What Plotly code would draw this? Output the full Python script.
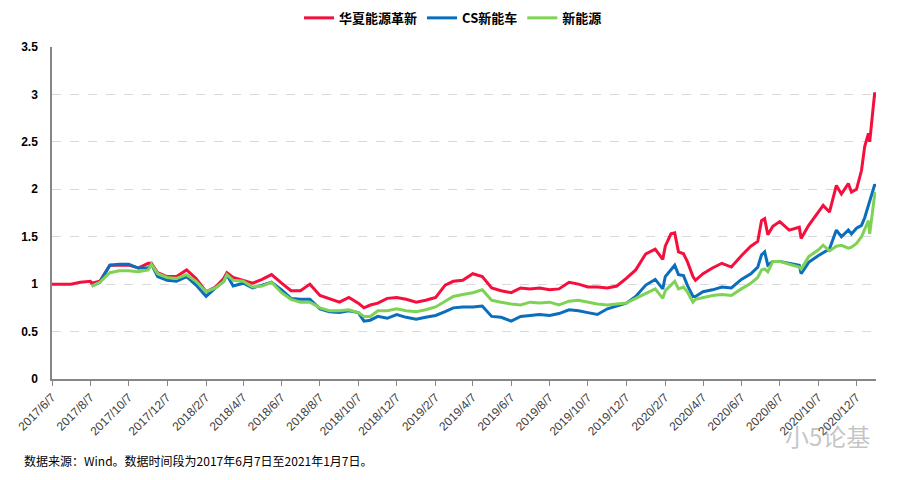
import plotly.graph_objects as go

dates = [
    "2017-06-07", "2017-06-22", "2017-07-07", "2017-07-22", "2017-08-07", "2017-08-09", "2017-08-22",
    "2017-09-07", "2017-09-22", "2017-10-07", "2017-10-22", "2017-11-07", "2017-11-12", "2017-11-22",
    "2017-12-07", "2017-12-22", "2018-01-07", "2018-01-22", "2018-02-07", "2018-02-22", "2018-03-07",
    "2018-03-12", "2018-03-22", "2018-04-07", "2018-04-22", "2018-05-07", "2018-05-22", "2018-06-07",
    "2018-06-22", "2018-07-07", "2018-07-22", "2018-08-07", "2018-08-22", "2018-09-07", "2018-09-22",
    "2018-10-07", "2018-10-16", "2018-10-26", "2018-11-07", "2018-11-22", "2018-12-07", "2018-12-22",
    "2019-01-07", "2019-01-22", "2019-02-07", "2019-02-22", "2019-03-07", "2019-03-22", "2019-04-07",
    "2019-04-22", "2019-05-07", "2019-05-22", "2019-06-07", "2019-06-22", "2019-07-07", "2019-07-22",
    "2019-08-07", "2019-08-22", "2019-09-07", "2019-09-22", "2019-10-07", "2019-10-22", "2019-11-07",
    "2019-11-22", "2019-12-07", "2019-12-22", "2020-01-07", "2020-01-22", "2020-02-03", "2020-02-07",
    "2020-02-16", "2020-02-22", "2020-02-28", "2020-03-07", "2020-03-13", "2020-03-22", "2020-03-26",
    "2020-04-07", "2020-04-22", "2020-05-07", "2020-05-22", "2020-06-07", "2020-06-22", "2020-07-03",
    "2020-07-09", "2020-07-14", "2020-07-19", "2020-07-27", "2020-08-07", "2020-08-22", "2020-09-07",
    "2020-09-10", "2020-09-22", "2020-10-07", "2020-10-15", "2020-10-25", "2020-11-05", "2020-11-13",
    "2020-11-24", "2020-11-29", "2020-12-07", "2020-12-15", "2020-12-20", "2020-12-26", "2020-12-28",
    "2021-01-02", "2021-01-05", "2021-01-07",
]

huaxia = [
    1.00, 1.00, 1.00, 1.02, 1.03, 1.01, 1.03,
    1.20, 1.20, 1.20, 1.17, 1.22, 1.22, 1.12,
    1.08, 1.08, 1.15, 1.06, 0.92, 0.97, 1.06,
    1.12, 1.07, 1.04, 1.01, 1.05, 1.10, 1.01,
    0.93, 0.93, 1.00, 0.88, 0.85, 0.81, 0.86,
    0.80, 0.75, 0.78, 0.80, 0.85, 0.86, 0.84,
    0.81, 0.83, 0.86, 0.99, 1.03, 1.04, 1.11,
    1.08, 0.96, 0.93, 0.91, 0.96, 0.95, 0.96,
    0.94, 0.95, 1.02, 1.00, 0.97, 0.97, 0.96,
    0.98, 1.06, 1.15, 1.32, 1.37, 1.26, 1.40,
    1.53, 1.54, 1.34, 1.32, 1.24, 1.08, 1.04,
    1.11, 1.17, 1.22, 1.18, 1.30, 1.40, 1.45,
    1.67, 1.69, 1.52, 1.61, 1.66, 1.57, 1.60,
    1.48, 1.62, 1.75, 1.83, 1.76, 2.04, 1.95,
    2.06, 1.97, 2.00, 2.20, 2.45, 2.59, 2.50,
    2.83, 3.02, 2.97,
]

cs_nev = [
    None, None, None, None, None, 0.98, 1.02,
    1.20, 1.21, 1.21, 1.17, 1.17, 1.21, 1.08,
    1.04, 1.03, 1.08, 0.99, 0.87, 0.96, 1.03,
    1.10, 0.98, 1.01, 0.96, 0.99, 1.02, 0.94,
    0.85, 0.84, 0.84, 0.74, 0.71, 0.70, 0.72,
    0.70, 0.61, 0.62, 0.66, 0.64, 0.68, 0.65,
    0.63, 0.65, 0.67, 0.71, 0.75, 0.76, 0.76,
    0.77, 0.66, 0.65, 0.61, 0.66, 0.67, 0.68,
    0.67, 0.69, 0.73, 0.72, 0.70, 0.68, 0.74,
    0.77, 0.80, 0.87, 0.99, 1.05, 0.95, 1.08,
    1.15, 1.20, 1.10, 1.09, 0.99, 0.87, 0.87,
    0.92, 0.94, 0.97, 0.96, 1.05, 1.11, 1.18,
    1.31, 1.34, 1.20, 1.24, 1.24, 1.22, 1.20,
    1.11, 1.23, 1.30, 1.33, 1.37, 1.57, 1.50,
    1.57, 1.53, 1.59, 1.62, 1.70, 1.83, 1.86,
    1.99, 2.05, 2.03,
]

new_energy = [
    None, None, None, None, None, 0.98, 1.02,
    1.12, 1.14, 1.14, 1.13, 1.15, 1.21, 1.11,
    1.07, 1.06, 1.10, 1.03, 0.92, 0.96, 1.03,
    1.10, 1.04, 1.03, 0.97, 0.98, 1.02, 0.91,
    0.84, 0.81, 0.81, 0.75, 0.72, 0.72, 0.73,
    0.70, 0.66, 0.66, 0.72, 0.72, 0.74, 0.72,
    0.71, 0.73, 0.76, 0.82, 0.87, 0.89, 0.91,
    0.94, 0.83, 0.81, 0.79, 0.78, 0.81, 0.80,
    0.81, 0.78, 0.82, 0.83, 0.81, 0.79, 0.78,
    0.79, 0.80, 0.85, 0.90, 0.95, 0.85, 0.93,
    0.99, 1.03, 0.95, 0.97, 0.92, 0.81, 0.84,
    0.86, 0.88, 0.89, 0.88, 0.95, 1.01, 1.07,
    1.15, 1.16, 1.13, 1.24, 1.24, 1.21, 1.18,
    1.16, 1.29, 1.36, 1.41, 1.35, 1.40, 1.41,
    1.38, 1.39, 1.43, 1.50, 1.58, 1.67, 1.53,
    1.82, 1.95, 1.97,
]

series_names = ["华夏能源革新", "CS新能车", "新能源"]
series_values = [huaxia, cs_nev, new_energy]
series_colors = ["#F50F3D", "#0A6EBD", "#7ED356"]

tick_dates = ["2017-06-07", "2017-08-07", "2017-10-07", "2017-12-07", "2018-02-07", "2018-04-07",
              "2018-06-07", "2018-08-07", "2018-10-07", "2018-12-07", "2019-02-07", "2019-04-07",
              "2019-06-07", "2019-08-07", "2019-10-07", "2019-12-07", "2020-02-07", "2020-04-07",
              "2020-06-07", "2020-08-07", "2020-10-07", "2020-12-07"]
tick_labels = ["2017/6/7", "2017/8/7", "2017/10/7", "2017/12/7", "2018/2/7", "2018/4/7",
               "2018/6/7", "2018/8/7", "2018/10/7", "2018/12/7", "2019/2/7", "2019/4/7",
               "2019/6/7", "2019/8/7", "2019/10/7", "2019/12/7", "2020/2/7", "2020/4/7",
               "2020/6/7", "2020/8/7", "2020/10/7", "2020/12/7"]
y_ticks = [0, 0.5, 1, 1.5, 2, 2.5, 3, 3.5]
y_labels = ["0", "0.5", "1", "1.5", "2", "2.5", "3", "3.5"]

FONT = "Noto Sans CJK SC"

fig = go.Figure()
for name, vals, col in zip(series_names, series_values, series_colors):
    fig.add_trace(go.Scatter(
        x=dates, y=vals, mode="lines", name="<b>" + name + "</b>",
        line=dict(color=col, width=3), connectgaps=False,
    ))

fig.update_layout(
    width=890, height=472,
    margin=dict(l=44, r=22, t=39, b=101, autoexpand=False),
    paper_bgcolor="white", plot_bgcolor="white",
    font=dict(family=FONT, color="#000000"),
    showlegend=True,
    legend=dict(orientation="h", xref="container", yref="container",
                x=0.5, xanchor="center", y=0.979, yanchor="middle",
                font=dict(size=13, color="#000000", family=FONT),
                itemwidth=30, tracegroupgap=0, bgcolor="rgba(0,0,0,0)"),
    xaxis=dict(
        type="date", range=["2017-06-07", "2021-01-07"], automargin=False,
        tickmode="array", tickvals=tick_dates, ticktext=tick_labels,
        tickangle=-45, tickfont=dict(size=12, color="#404040", family="Liberation Sans"),
        showgrid=False, showline=True, linecolor="#868686", linewidth=1.5,
        ticks="outside", ticklen=5, tickcolor="#868686", zeroline=False,
    ),
    yaxis=dict(
        range=[0, 3.5], tickmode="array", tickvals=y_ticks,
        ticktext=["<b>" + t + "</b>" for t in y_labels], automargin=False,
        tickfont=dict(size=12, color="#000000", family="Liberation Sans"),
        showgrid=True, gridcolor="#D9D9D9", griddash="dash", gridwidth=1,
        showline=True, linecolor="#868686", linewidth=1.5, ticks="", zeroline=False,
        ticklabelstandoff=10,
    ),
    annotations=[
        dict(text="数据来源：Wind。数据时间段为2017年6月7日至2021年1月7日。",
             xref="paper", yref="paper", x=-0.037, y=-0.244, xanchor="left", yanchor="middle",
             showarrow=False, font=dict(size=12, color="#000000", family=FONT)),
        dict(text="小5论基", xref="paper", yref="paper", x=0.995, y=-0.17,
             xanchor="right", yanchor="middle", showarrow=False,
             font=dict(size=24, color="rgba(140,140,140,0.5)", family=FONT)),
    ],
)

fig.write_html("out.html")
